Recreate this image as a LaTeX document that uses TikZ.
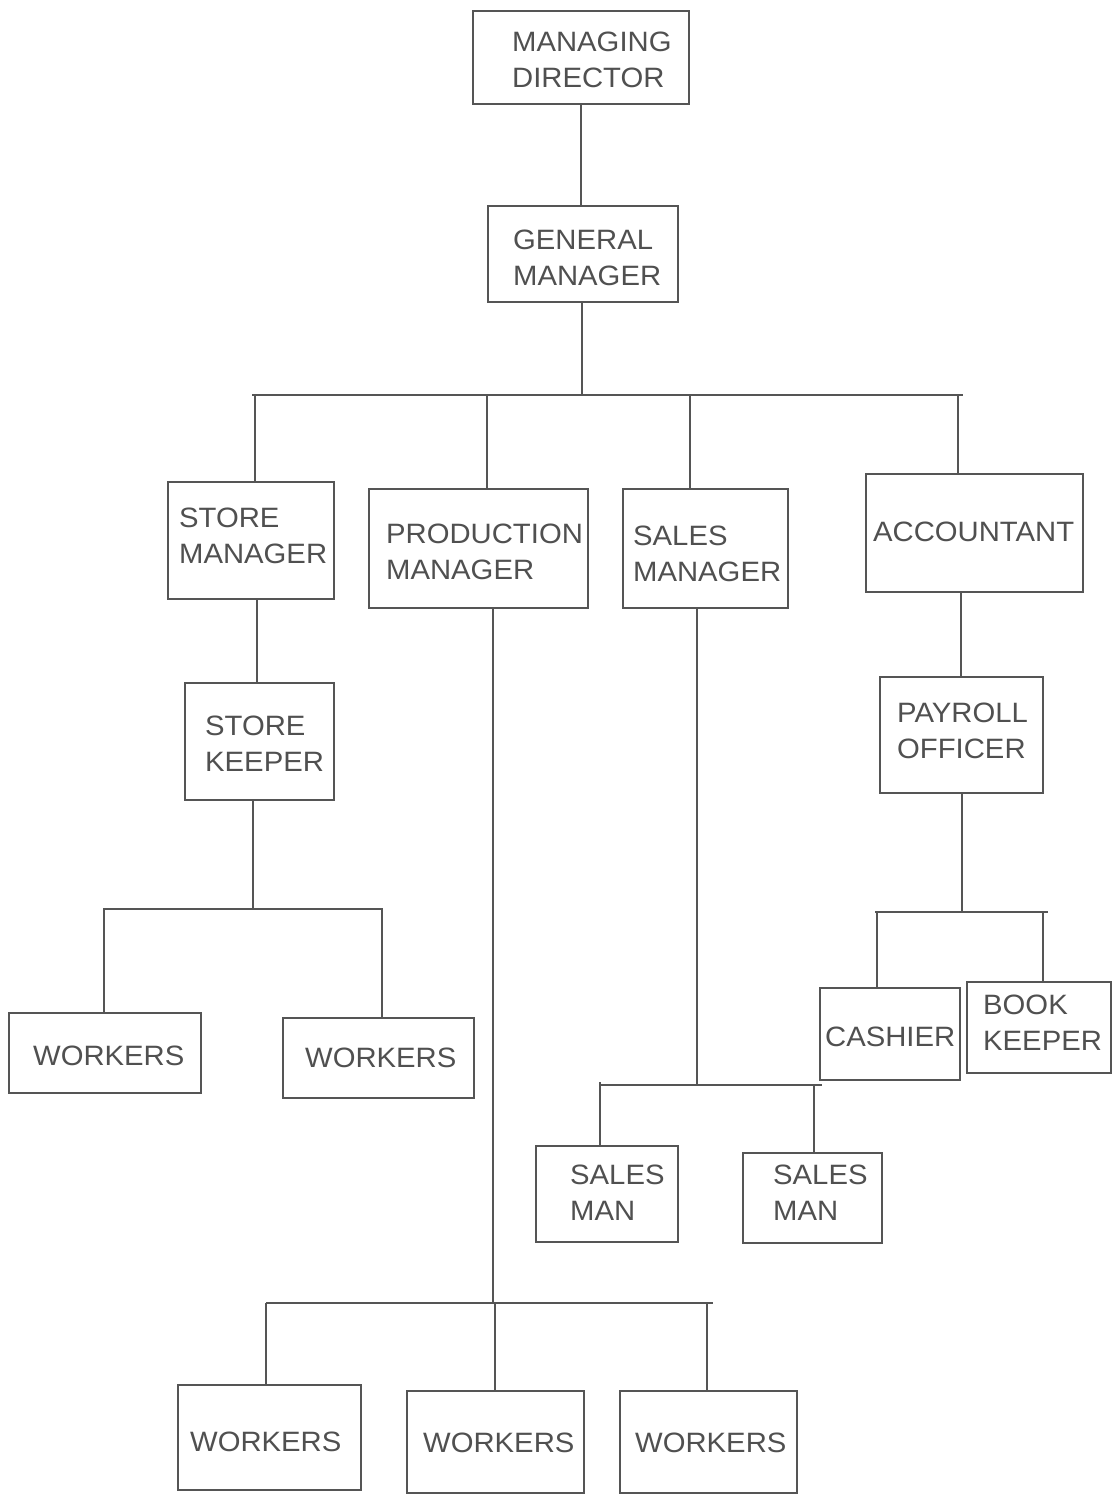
\documentclass[tikz,border=0pt]{standalone}
\usepackage{fontspec}
\setmainfont[FakeStretch=1.045]{Liberation Sans}
\definecolor{linec}{RGB}{85,85,85}
\definecolor{textc}{RGB}{80,80,80}
\tikzset{
  box/.style={draw=linec, line width=1.3pt, rectangle, inner sep=0pt, outer sep=0pt, anchor=north west},
  lbl/.style={text=textc, font=\fontsize{28}{36}\selectfont, align=left, inner sep=0pt, anchor=north west},
  conn/.style={draw=linec, line width=1.3pt}
}
\newcommand\orgbox[5]{\node[box, minimum width={(#4-#2)*1pt}, minimum height={(#5-#3)*1pt}] (#1) at (#2,#3) {};}
\begin{document}
\begin{tikzpicture}[x=1pt,y=-1pt]
\fill[white] (0,0) rectangle (1113,1495);
\useasboundingbox (0,0) rectangle (1113,1495);
% boxes
\orgbox{md}{473}{11}{689}{104}
\orgbox{gm}{488}{206}{678}{302}
\orgbox{sm}{168}{482}{334}{599}
\orgbox{pm}{369}{489}{588}{608}
\orgbox{sa}{623}{489}{788}{608}
\orgbox{ac}{866}{474}{1083}{592}
\orgbox{sk}{185}{683}{334}{800}
\orgbox{po}{880}{677}{1043}{793}
\orgbox{ca}{820}{988}{960}{1080}
\orgbox{bk}{967}{982}{1111}{1073}
\orgbox{s1}{536}{1146}{678}{1242}
\orgbox{s2}{743}{1153}{882}{1243}
\orgbox{w1}{9}{1013}{201}{1093}
\orgbox{w2}{283}{1018}{474}{1098}
\orgbox{w3}{178}{1385}{361}{1490}
\orgbox{w4}{407}{1391}{584}{1493}
\orgbox{w5}{620}{1391}{797}{1493}
% labels
\node[lbl] (mdt) at (512,32) {MANAGING\\DIRECTOR};
\node[lbl] (gmt) at (513,230) {GENERAL\\MANAGER};
\node[lbl] (smt) at (179,508) {STORE\\MANAGER};
\node[lbl] (pmt) at (386,524) {PRODUCTION\\MANAGER};
\node[lbl] (sat) at (633,526) {SALES\\MANAGER};
\node[lbl] (act) at (873,522) {ACCOUNTANT};
\node[lbl] (skt) at (205,716) {STORE\\KEEPER};
\node[lbl] (pot) at (897,703) {PAYROLL\\OFFICER};
\node[lbl] (cat) at (825,1027) {CASHIER};
\node[lbl] (bkt) at (983,995) {BOOK\\KEEPER};
\node[lbl] (s1t) at (570,1165) {SALES\\MAN};
\node[lbl] (s2t) at (773,1165) {SALES\\MAN};
\node[lbl] (w1t) at (33,1046) {WORKERS};
\node[lbl] (w2t) at (305,1048) {WORKERS};
\node[lbl] (w3t) at (190,1432) {WORKERS};
\node[lbl] (w4t) at (423,1433) {WORKERS};
\node[lbl] (w5t) at (635,1433) {WORKERS};
% junction coordinates
\coordinate (busL) at (252,395);
\coordinate (busR) at (963,395);
\coordinate (g1) at (582,395);
\coordinate (j1) at (255,395);
\coordinate (j2) at (487,395);
\coordinate (j3) at (690,395);
\coordinate (j4) at (958,395);
\coordinate (k1) at (257,599);
\coordinate (k2) at (253,909);
\coordinate (kL) at (103,909);
\coordinate (kR) at (383,909);
\coordinate (k3) at (104,909);
\coordinate (k4) at (382,909);
\coordinate (p1) at (493,1303);
\coordinate (pL) at (266,1303);
\coordinate (pR) at (713,1303);
\coordinate (p2) at (495,1303);
\coordinate (p3) at (707,1303);
\coordinate (q1) at (697,1085);
\coordinate (qL) at (600,1085);
\coordinate (qR) at (822,1085);
\coordinate (q2) at (600,1082);
\coordinate (q3) at (814,1085);
\coordinate (a1) at (961,592);
\coordinate (a2) at (962,912);
\coordinate (aL) at (875,912);
\coordinate (aR) at (1048,912);
\coordinate (a3) at (877,912);
\coordinate (a4) at (1043,912);
% connectors
\draw[conn] (md.south) -- (md.south |- gm.north);
\draw[conn] (g1 |- gm.south) -- (g1);
\draw[conn] (busL) -- (busR);
\draw[conn] (j1) -- (j1 |- sm.north);
\draw[conn] (j2) -- (j2 |- pm.north);
\draw[conn] (j3) -- (j3 |- sa.north);
\draw[conn] (j4) -- (j4 |- ac.north);
\draw[conn] (k1) -- (k1 |- sk.north);
\draw[conn] (k2 |- sk.south) -- (k2);
\draw[conn] (kL) -- (kR);
\draw[conn] (k3) -- (k3 |- w1.north);
\draw[conn] (k4) -- (k4 |- w2.north);
\draw[conn] (p1 |- pm.south) -- (p1);
\draw[conn] (pL) -- (pR);
\draw[conn] (pL) -- (pL |- w3.north);
\draw[conn] (p2) -- (p2 |- w4.north);
\draw[conn] (p3) -- (p3 |- w5.north);
\draw[conn] (q1 |- sa.south) -- (q1);
\draw[conn] (qL) -- (qR);
\draw[conn] (q2) -- (q2 |- s1.north);
\draw[conn] (q3) -- (q3 |- s2.north);
\draw[conn] (a1) -- (a1 |- po.north);
\draw[conn] (a2 |- po.south) -- (a2);
\draw[conn] (aL) -- (aR);
\draw[conn] (a3) -- (a3 |- ca.north);
\draw[conn] (a4) -- (a4 |- bk.north);
\end{tikzpicture}
\end{document}
